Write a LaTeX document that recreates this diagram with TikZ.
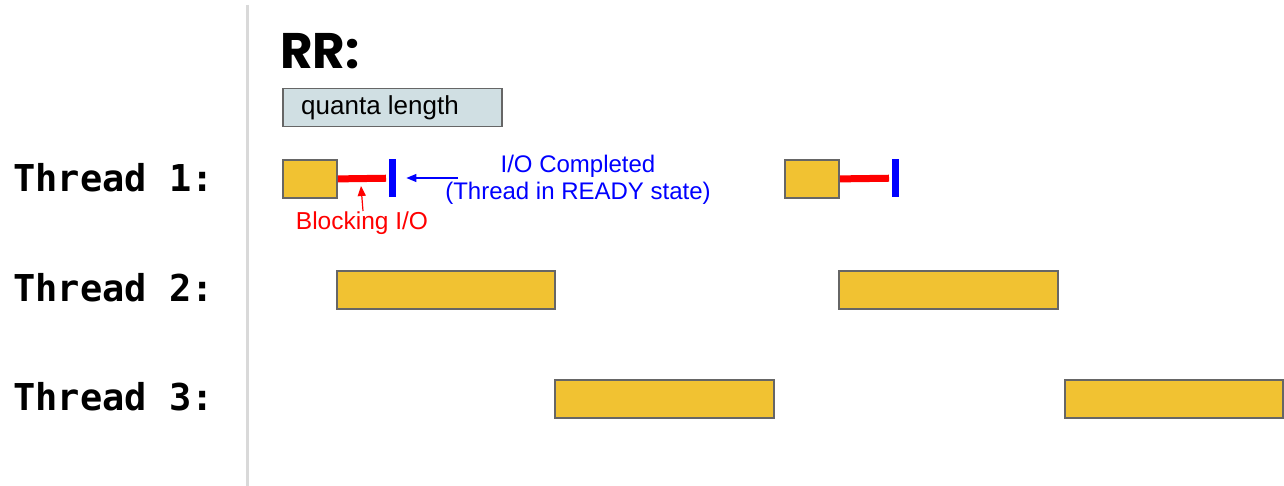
\documentclass[tikz,border=0pt]{standalone}
\usepackage{fontspec}
\setmainfont{Liberation Sans}
\newfontfamily\threadfont{DejaVu Sans Mono}
\newfontfamily\titlefont{Poppins}
\usetikzlibrary{arrows.meta}
\definecolor{cpuyellow}{HTML}{F1C232}
\definecolor{bordergray}{HTML}{666666}
\definecolor{sepgray}{HTML}{D9D9D9}
\definecolor{quantafill}{HTML}{D0DFE3}
\definecolor{ioblue}{HTML}{0000FF}
\definecolor{iored}{HTML}{FF0000}
\begin{document}
\begin{tikzpicture}[x=1pt,y=-1pt,
  cpu/.style={draw=bordergray, line width=1.8pt, fill=cpuyellow, inner sep=0pt, anchor=north west, minimum height=38pt},
  iobar/.style={fill=ioblue, inner sep=0pt, minimum width=7pt, minimum height=38pt, anchor=north west},
  blockline/.style={draw=iored, line width=7pt, shorten >=3pt},
  threadlabel/.style={font=\threadfont\bfseries\fontsize{37}{40}\selectfont, anchor=base west, inner sep=0pt},
  note/.style={font=\fontsize{24}{27}\selectfont, inner sep=0pt, align=center}]
\useasboundingbox[fill=white] (0,0) rectangle (1284,486);
% separator
\coordinate (septop) at (247,5);
\coordinate (sepbot) at (247,486);
\draw[sepgray, line width=3pt] (septop) -- (sepbot);
% title
\node[font=\titlefont\bfseries\fontsize{50}{54}\selectfont, anchor=base west, inner sep=0pt] (title) at (280,69) {RR:};
\node[draw=bordergray, line width=1.5pt, fill=quantafill, anchor=north west, minimum width=219pt, minimum height=38pt, inner sep=0pt] (quanta) at (282,88) {};
\node[font=\fontsize{26}{30}\selectfont, anchor=base west, inner sep=0pt] (quantatext) at (301,115) {quanta length};
% thread labels
\node[threadlabel] (th1) at (13,192) {Thread 1:};
\node[threadlabel] (th2) at (13,301) {Thread 2:};
\node[threadlabel] (th3) at (13,410) {Thread 3:};
% thread 1
\node[cpu, minimum width=54pt] (t1a) at (282,159) {};
\node[iobar] (io1) at (389,159) {};
\draw[blockline] (t1a.east) -- (io1.west);
\node[cpu, minimum width=54pt] (t1b) at (784,159) {};
\node[iobar] (io2) at (892,159) {};
\draw[blockline] (t1b.east) -- (io2.west);
% annotations
\node[note, text=ioblue] (iotext) at (578,180) {I/O Completed\\(Thread in READY state)};
\coordinate (iotail) at (458,178);
\draw[ioblue, line width=1.2pt, -{Triangle[length=10pt, width=8pt]}, shorten >=10pt] (iotail) -- (io1.east |- iotail);
\node[note, text=iored, anchor=base, font=\fontsize{24.5}{28}\selectfont] (blocktext) at (362,230) {Blocking I/O};
\coordinate (blocktip) at (361,186);
\draw[iored, line width=1.2pt, -{Triangle[length=10pt, width=8pt]}] (363,211) -- (blocktip);
% thread 2
\node[cpu, minimum width=218pt] (t2a) at (336,270) {};
\node[cpu, minimum width=219pt] (t2b) at (838,270) {};
% thread 3
\node[cpu, minimum width=219pt] (t3a) at (554,379) {};
\node[cpu, minimum width=218pt] (t3b) at (1064,379) {};
\end{tikzpicture}
\end{document}
